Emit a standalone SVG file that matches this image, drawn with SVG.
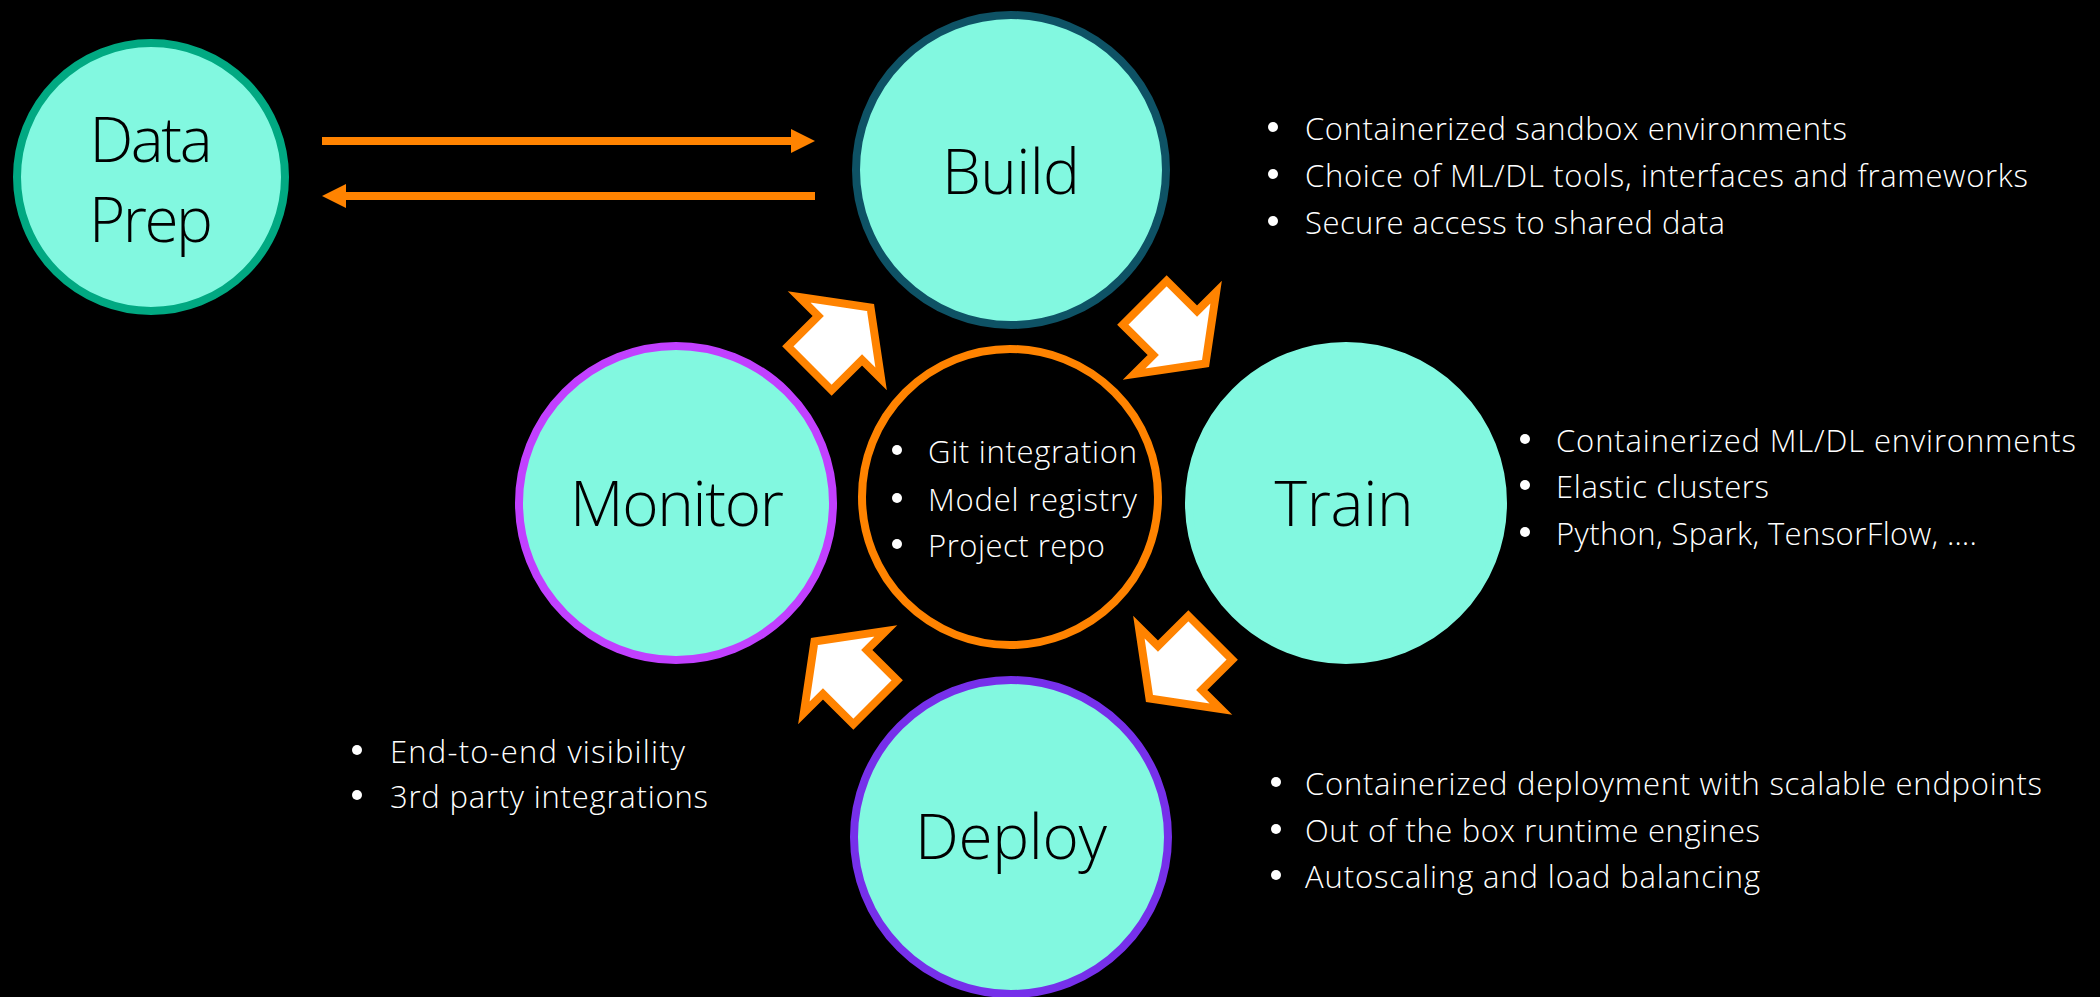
<svg xmlns="http://www.w3.org/2000/svg" width="2100" height="997" viewBox="0 0 2100 997">
<defs>
<style>
.node{fill:#82F8E0;stroke-width:8}
.lbl{font-family:"Open Sans","Lato",sans-serif;font-weight:300;font-size:62px;fill:#000;text-anchor:middle}
.li{font-family:"Open Sans","Lato",sans-serif;font-weight:300;font-size:31px;fill:#fff}
.bul{fill:#fff}
.conn{stroke:#FF8300;stroke-width:8;fill:none}
.blk{fill:#fff;stroke:#FF8300;stroke-width:8;stroke-linejoin:miter}
</style>
<marker id="ah" markerUnits="userSpaceOnUse" viewBox="0 0 24 24" markerWidth="24" markerHeight="24" refX="6" refY="12" orient="auto">
<path d="M0,0 L24,12 L0,24 z" fill="#FF8300"/>
</marker>
<polygon id="blk" points="46,0 3,58 3,31 -40,31 -40,-31 3,-31 3,-58"/>
</defs>
<rect width="2100" height="997" fill="#000"/>

<g id="connectors">
<line class="conn" x1="322" y1="141" x2="797" y2="141" marker-end="url(#ah)"/>
<line class="conn" x1="815" y1="196" x2="340" y2="196" marker-end="url(#ah)"/>
<use href="#blk" class="blk" transform="translate(838,340) rotate(-45)"/>
<use href="#blk" class="blk" transform="translate(1173,331) rotate(45)"/>
<use href="#blk" class="blk" transform="translate(1182,666) rotate(135)"/>
<use href="#blk" class="blk" transform="translate(847,674) rotate(-135)"/>
</g>

<g id="dataprep">
<circle class="node" cx="151" cy="177" r="134" stroke="#01A982"/>
<text class="lbl" x="151" y="162" textLength="123">Data</text>
<text class="lbl" x="151" y="242" textLength="124">Prep</text>
</g>

<g id="build">
<circle class="node" cx="1011" cy="170" r="155" stroke="#0E5265"/>
<text class="lbl" x="1011" y="194" textLength="138">Build</text>
</g>

<g id="train">
<circle class="node" cx="1346" cy="503" r="157" stroke="#82F8E0"/>
<text class="lbl" x="1344" y="526" textLength="139">Train</text>
</g>

<g id="monitor">
<circle class="node" cx="676" cy="503" r="157" stroke="#C140FF"/>
<text class="lbl" x="677" y="526" textLength="214">Monitor</text>
</g>

<g id="deploy">
<circle class="node" cx="1011" cy="837" r="157" stroke="#7630EA"/>
<text class="lbl" x="1011" y="859" textLength="192">Deploy</text>
</g>

<g id="hub">
<circle cx="1010" cy="497" r="148" fill="#000" stroke="#FF8300" stroke-width="8"/>
<circle class="bul" cx="897" cy="450" r="5"/>
<circle class="bul" cx="897" cy="498" r="5"/>
<circle class="bul" cx="897" cy="544" r="5"/>
<text class="li" x="928" y="463" textLength="209">Git integration</text>
<text class="li" x="928" y="511" textLength="209">Model registry</text>
<text class="li" x="928" y="557" textLength="177">Project repo</text>
</g>

<g id="build-notes">
<circle class="bul" cx="1273" cy="127" r="5"/>
<circle class="bul" cx="1273" cy="174" r="5"/>
<circle class="bul" cx="1273" cy="221" r="5"/>
<text class="li" x="1305" y="140" textLength="542">Containerized sandbox environments</text>
<text class="li" x="1305" y="187" textLength="723">Choice of ML/DL tools, interfaces and frameworks</text>
<text class="li" x="1305" y="234" textLength="420">Secure access to shared data</text>
</g>

<g id="train-notes">
<circle class="bul" cx="1525" cy="439" r="5"/>
<circle class="bul" cx="1525" cy="485" r="5"/>
<circle class="bul" cx="1525" cy="532" r="5"/>
<text class="li" x="1556" y="452" textLength="520">Containerized ML/DL environments</text>
<text class="li" x="1556" y="498" textLength="213">Elastic clusters</text>
<text class="li" x="1556" y="545" textLength="421">Python, Spark, TensorFlow, ….</text>
</g>

<g id="monitor-notes">
<circle class="bul" cx="357" cy="750" r="5"/>
<circle class="bul" cx="357" cy="795" r="5"/>
<text class="li" x="390" y="763" textLength="295">End-to-end visibility</text>
<text class="li" x="390" y="808" textLength="318">3rd party integrations</text>
</g>

<g id="deploy-notes">
<circle class="bul" cx="1276" cy="782" r="5"/>
<circle class="bul" cx="1276" cy="829" r="5"/>
<circle class="bul" cx="1276" cy="875" r="5"/>
<text class="li" x="1305" y="795" textLength="737">Containerized deployment with scalable endpoints</text>
<text class="li" x="1305" y="842" textLength="455">Out of the box runtime engines</text>
<text class="li" x="1305" y="888" textLength="455">Autoscaling and load balancing</text>
</g>
</svg>
